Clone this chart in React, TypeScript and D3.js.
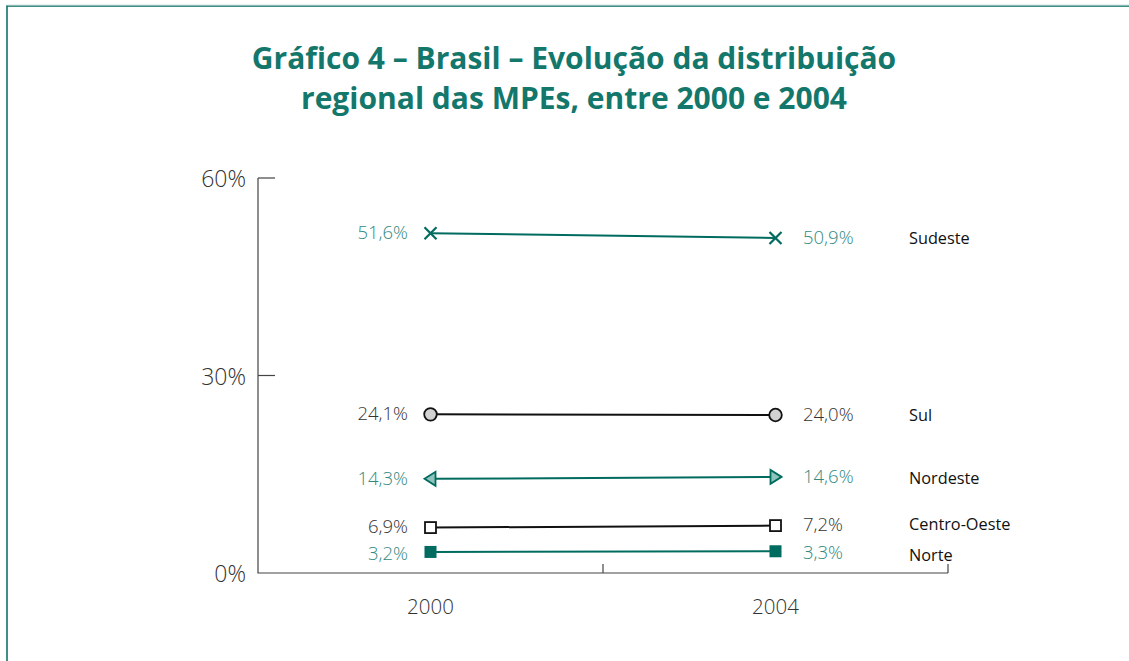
import * as d3 from 'd3'

const years = ['2000', '2004']
const regions = ['Sudeste', 'Sul', 'Nordeste', 'Centro-Oeste', 'Norte']
const values2000 = [51.6, 24.1, 14.3, 6.9, 3.2]
const values2004 = [50.9, 24.0, 14.6, 7.2, 3.3]
const yTicks = [0, 30, 60]
const titleLines = ['Gráfico 4 – Brasil – Evolução da distribuição', 'regional das MPEs, entre 2000 e 2004']

const TEAL = '#006b5f'
const TEAL_TEXT = '#33897f'
const TITLE = '#13776b'
const FONT = '"Open Sans", "Noto Sans", sans-serif'

const fmt = (v: number) => d3.format('.1f')(v).replace('.', ',') + '%'

// per-series styling, index matches regions
const lineColor = [TEAL, '#111', TEAL, '#111', TEAL]
const labelColor = [TEAL_TEXT, '#333', TEAL_TEXT, '#333', TEAL_TEXT]
const nameNudge = [0, 0, 1, -2, 4]

function Marker({kind, x, y, side}: {kind: number, x: number, y: number, side: number}) {
  if (kind === 0) {
    const s = 6
    return <path d={`M${x - s},${y - s}L${x + s},${y + s}M${x - s},${y + s}L${x + s},${y - s}`} stroke={TEAL} strokeWidth={2.2} />
  }
  if (kind === 1) return <circle cx={x} cy={y} r={6.3} fill="#d2d2d2" stroke="#111" strokeWidth={1.8} />
  if (kind === 2) {
    const tip = x + side * 6
    const back = x - side * 5
    return <path d={`M${tip},${y}L${back},${y - 7}L${back},${y + 7}Z`} fill="#8fc4bd" stroke={TEAL} strokeWidth={1.8} />
  }
  if (kind === 3) return <rect x={x - 5.5} y={y - 5.5} width={11} height={11} fill="#fff" stroke="#111" strokeWidth={1.8} />
  return <rect x={x - 6} y={y - 6} width={12} height={12} fill={TEAL} />
}

export default function App() {
  const width = 1129
  const height = 661
  const left = 258
  const right = 948
  const top = 178
  const bottom = 573

  const x = d3.scalePoint(years, [left, right]).padding(0.5)
  const y = d3.scaleLinear([0, 60], [bottom, top])
  const half = x.step() / 2
  const boundaries = years.map(yr => (x(yr) as number) + half)

  return (
    <svg width={width} height={height} style={{position: 'absolute', left: 0, top: 0}} fontFamily={FONT}>
      <rect width={width} height={height} fill="#fff" />
      <path d={`M7,${height}V6H${width}`} fill="none" stroke={TEAL} strokeWidth={1.5} />
      <line x1={7} x2={width} y1={5} y2={5} stroke="#cfe3e0" strokeWidth={1} />

      {titleLines.map((t, i) => (
        <text key={i} x={574} y={69 + i * 40} textAnchor="middle" fill={TITLE} fontWeight={700} fontSize={30}>{t}</text>
      ))}

      <path d={`M${left},${top}V${bottom}H${right}`} fill="none" stroke="#444" strokeWidth={1.2} />
      {yTicks.filter(t => t > 0).map(t => (
        <line key={t} x1={left} x2={left + 17} y1={y(t)} y2={y(t)} stroke="#444" strokeWidth={1.2} />
      ))}
      {boundaries.map((b, i) => (
        <line key={i} x1={b} x2={b} y1={bottom} y2={bottom - 9} stroke="#444" strokeWidth={1.2} />
      ))}
      {yTicks.map(t => (
        <text key={t} x={246} y={y(t) + 9} textAnchor="end" fontSize={23} fill="#333" fontWeight={300}>{t}%</text>
      ))}
      {years.map(yr => (
        <text key={yr} x={x(yr)} y={614} textAnchor="middle" fontSize={20.5} fill="#333" fontWeight={300}>{yr}</text>
      ))}

      {regions.map((r, i) => {
        const x0 = x(years[0]) as number
        const x1 = x(years[1]) as number
        const y0 = y(values2000[i])
        const y1 = y(values2004[i])
        return (
          <g key={r}>
            <line x1={x0} x2={x1} y1={y0} y2={y1} stroke={lineColor[i]} strokeWidth={2} />
            <Marker kind={i} x={x0} y={y0} side={-1} />
            <Marker kind={i} x={x1} y={y1} side={1} />
            <text x={408} y={y0 + 6 + nameNudge[i] / 2} textAnchor="end" fontSize={18.5} fill={labelColor[i]} fontWeight={300}>{fmt(values2000[i])}</text>
            <text x={803} y={y1 + 6 + nameNudge[i] / 2} fontSize={18.5} fill={labelColor[i]} fontWeight={300}>{fmt(values2004[i])}</text>
            <text x={909} y={y1 + 6 + nameNudge[i]} fontSize={16.3} fill="#111">{r}</text>
          </g>
        )
      })}
    </svg>
  )
}
